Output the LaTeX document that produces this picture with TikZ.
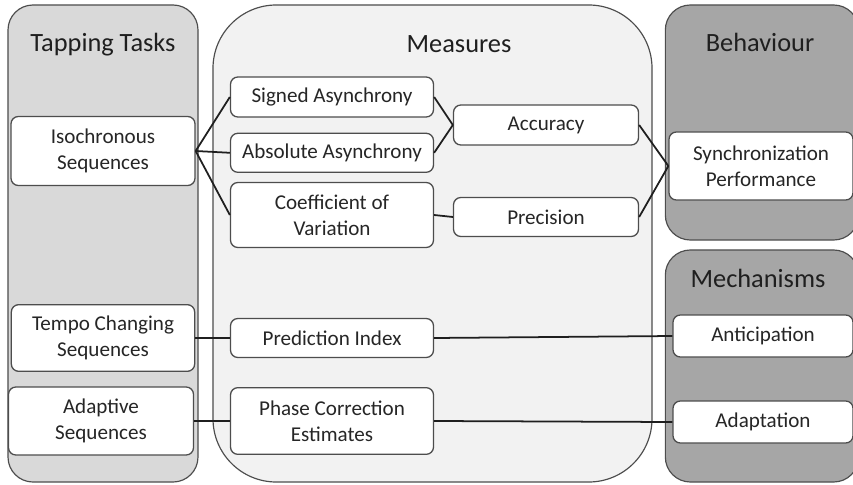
\documentclass[tikz,border=0pt]{standalone}
\usepackage{fontspec}
\setmainfont{Carlito}
\usepackage{tikz}
\usetikzlibrary{positioning, calc}
\definecolor{taskgray}{HTML}{D9D9D9}
\definecolor{measuregray}{HTML}{F2F2F2}
\definecolor{darkpanel}{HTML}{A6A6A6}
\definecolor{rimgray}{HTML}{4D4D4D}
\tikzset{
    panel/.style={rectangle, draw=rimgray, line width=1pt, rounded corners=0.75cm},
    title/.style={font=\fontsize{22.5}{26}\selectfont, text=black!88},
    box/.style={rectangle, draw=rimgray, fill=white, line width=1.1pt, rounded corners=0.22cm, align=center, font=\fontsize{18}{22.5}\selectfont, text=black!85},
    link/.style={line width=1.5pt, black!88},
}

\begin{document}
\begin{tikzpicture}[x=0.03cm, y=-0.03cm]
    \useasboundingbox (0,0) rectangle (853,485);

    % the four grouping panels
    \node[panel, fill=taskgray, minimum width=5.7cm, minimum height=14.31cm] (tasks) at (103,243.5) {};
    \node[panel, fill=measuregray, rounded corners=1.9cm, minimum width=13.17cm, minimum height=14.31cm] (measures) at (432.5,243.5) {};
    \node[panel, fill=darkpanel, minimum width=5.8cm, minimum height=7.05cm] (behav) at (762,122.5) {};
    \node[panel, fill=darkpanel, minimum width=5.8cm, minimum height=6.96cm] (mech) at (762,366) {};

    \node[title] (taskstitle) at (103,45) {Tapping Tasks};
    \node[title] (meastitle) at (459,44) {Measures};
    \node[title] (behavtitle) at (760,42) {Behaviour};
    \node[title] (mechtitle) at (758,278) {Mechanisms};

    % tapping tasks
    \node[box, minimum width=5.52cm, minimum height=2.07cm] (iso) at (103,151) {Isochronous\\Sequences};
    \node[box, minimum width=5.5cm, minimum height=2.0cm] (tempo) at (103,338) {Tempo Changing\\Sequences};
    \node[box, minimum width=5.55cm, minimum height=2.04cm] (adaptive) at (101,421) {Adaptive\\Sequences};

    % measures
    \node[box, minimum width=6.09cm, minimum height=1.2cm] (signed) at (332,97) {Signed Asynchrony};
    \node[box, minimum width=6.09cm, minimum height=1.17cm, below=0.45cm of signed] (absolute) {Absolute Asynchrony};
    \node[box, minimum width=6.09cm, minimum height=1.95cm] (coeff) at (332,215) {Coefficient of\\Variation};
    \node[box, minimum width=6.09cm, minimum height=1.17cm] (predict) at (332,338) {Prediction Index};
    \node[box, minimum width=6.09cm, minimum height=2.0cm] (phase) at (332,421) {Phase Correction\\Estimates};

    \node[box, minimum width=5.55cm, minimum height=1.2cm] (accuracy) at (546,125) {Accuracy};
    \node[box, minimum width=5.55cm, minimum height=1.17cm] (precision) at (546,217) {Precision};

    % behaviour and mechanisms
    \node[box, minimum width=5.52cm, minimum height=2.04cm] (sync) at (761,166) {Synchronization\\Performance};
    \node[box, minimum width=5.4cm, minimum height=1.26cm] (anticip) at (763,336) {Anticipation};
    \node[box, minimum width=5.4cm, minimum height=1.26cm] (adapt) at (763,422) {Adaptation};

    \draw[link] (iso.east) -- (signed.west);
    \draw[link] (iso.east) -- (absolute.west);
    \draw[link] (iso.east) -- (coeff.west);
    \draw[link] (signed.east) -- (accuracy.west);
    \draw[link] (absolute.east) -- (accuracy.west);
    \draw[link] (coeff.east) -- (precision.west);
    \draw[link] (accuracy.east) -- (sync.west);
    \draw[link] (precision.east) -- (sync.west);
    \draw[link] (tempo.east) -- (predict.west);
    \draw[link] (predict.east) -- (anticip.west);
    \draw[link] (adaptive.east) -- (phase.west);
    \draw[link] (phase.east) -- (adapt.west);
\end{tikzpicture}
\end{document}
